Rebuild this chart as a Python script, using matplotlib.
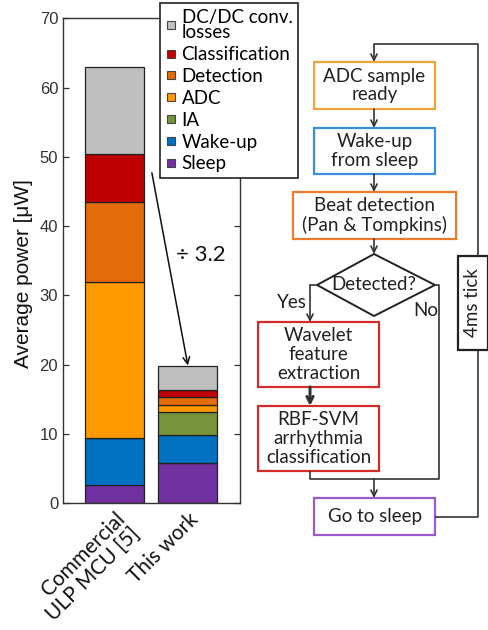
import matplotlib.pyplot as plt
from matplotlib.lines import Line2D
from matplotlib.patches import Rectangle, Polygon

# Average power breakdown [uW]
categories = ['Commercial\nULP MCU [5]', 'This work']
components = ['Sleep', 'Wake-up', 'IA', 'ADC', 'Detection', 'Classification',
              'DC/DC conv.\nlosses']
power_mcu = [2.7, 6.7, 0.0, 22.6, 11.5, 6.9, 12.6]
power_this = [5.8, 4.0, 3.4, 1.0, 1.2, 0.95, 3.45]
colors = ['#7030A0', '#0070C0', '#77933C', '#FF9900', '#E36C09', '#C00000', '#BFBFBF']
ratio_label = '÷ 3.2'

W, H = 489, 630
fig = plt.figure(figsize=(W / 100, H / 100), dpi=100)
fig.patch.set_facecolor('white')

# --- stacked bars -------------------------------------------------------
ax = fig.add_axes([63 / W, (H - 503.3) / H, 177 / W, 485 / H])
xpos = [1, 2]
bottom = [0.0, 0.0]
for name, c, a, b in zip(components, colors, power_mcu, power_this):
    ax.bar(xpos, [a, b], 0.8, bottom=bottom, color=c, edgecolor='#222222',
           linewidth=0.9, label=name, zorder=2)
    bottom = [bottom[0] + a, bottom[1] + b]

ax.set_xlim(0.3, 2.71)
ax.set_ylim(0, 70)
ax.set_yticks(range(0, 71, 10))
ax.tick_params(axis='y', direction='in', length=4, width=0.9, right=True,
               labelsize=12, labelcolor='#333333', colors='#333333',
               labelfontfamily='Liberation Sans')
ax.set_xticks(xpos)
ax.set_xticklabels(categories, rotation=45, ha='right', va='top',
                   rotation_mode='anchor', fontsize=15, family='Lato',
                   color='#111111', multialignment='right', linespacing=1.05)
ax.tick_params(axis='x', length=0, pad=4)
for sp in ax.spines.values():
    sp.set_color('#333333')
    sp.set_linewidth(1.0)
ax.set_ylabel('Average power [\u03bcW]', fontsize=15, family='Liberation Sans',
              color='#111111')
ax.yaxis.set_label_coords(-0.17, 0.473)

# legend, top entry first
order = list(range(len(components)))[::-1]
handles = [Line2D([], [], marker='s', ls='none', markersize=5.5,
                  markerfacecolor=colors[i], markeredgecolor='#444444',
                  markeredgewidth=0.8) for i in order]
leg = ax.legend(handles, [components[i] for i in order], loc='upper left',
                bbox_to_anchor=(160 / W, 1 - 3 / H), bbox_transform=fig.transFigure,
                frameon=True, fancybox=False, framealpha=1, edgecolor='#222222',
                prop={'family': 'Lato', 'size': 13.5}, handlelength=0.6,
                handletextpad=0.25, borderpad=0.3, labelspacing=0.26,
                borderaxespad=0)
leg.get_frame().set_linewidth(1.2)
leg.set_zorder(5)
for t in leg.get_texts():
    t.set_linespacing(0.9)

ax.annotate('', xy=(2.0, sum(power_this) + 0.1), xytext=(1.51, 47.7),
            arrowprops=dict(arrowstyle='->', lw=1.1, color='#111111',
                            shrinkA=0, shrinkB=0, mutation_scale=12),
            annotation_clip=False, zorder=4)
ax.text(2.17, 35.8, ratio_label, fontsize=16, family='Lato', color='#111111',
        ha='center', va='center')

# --- flowchart (pixel coordinates) --------------------------------------
fc = fig.add_axes([0, 0, 1, 1])
fc.set_xlim(0, W)
fc.set_ylim(H, 0)
fc.axis('off')
line_c = '#333333'


def box(x0, y0, x1, y1, text, color, **kw):
    fc.add_patch(Rectangle((x0, y0), x1 - x0, y1 - y0, facecolor='white',
                           edgecolor=color, lw=1.6))
    fc.text((x0 + x1) / 2, (y0 + y1) / 2, text, ha='center', va='center',
            fontsize=13.5, family='Lato', color='#222222', linespacing=1.12, **kw)


def arrow(x, y0, y1, lw=1.2):
    fc.annotate('', xy=(x, y1), xytext=(x, y0),
                arrowprops=dict(arrowstyle='->', lw=lw, color=line_c,
                                shrinkA=0, shrinkB=0, mutation_scale=11))


def path(xs, ys):
    fc.plot(xs, ys, color=line_c, lw=1.2, solid_capstyle='butt')


box(314, 62, 435, 109, 'ADC sample\nready', '#F2A33A')
box(314, 128, 435, 174, 'Wake-up\nfrom sleep', '#3A8EDB')
box(293, 192, 456, 239, 'Beat detection\n(Pan & Tompkins)', '#EE7A2E')
box(258, 322, 379, 387, 'Wavelet\nfeature\nextraction', '#D42A2A')
box(258, 406, 379, 471, 'RBF-SVM\narrhythmia\nclassification', '#D42A2A')
box(314, 498, 435, 535, 'Go to sleep', '#9B5BCF')
box(458, 256, 488, 350, '4ms tick', '#222222', rotation=90)

fc.add_patch(Polygon([(374, 254), (435, 285), (374, 316), (317, 285)],
                     closed=True, facecolor='white', edgecolor='#222222', lw=1.4))
fc.text(374, 285, 'Detected?', ha='center', va='center', fontsize=13.5,
        family='Lato', color='#222222')
fc.text(292, 302, 'Yes', ha='center', va='center', fontsize=13.5,
        family='Lato', color='#222222')
fc.text(426, 310, 'No', ha='center', va='center', fontsize=13.5,
        family='Lato', color='#222222')

arrow(374, 109, 128)
arrow(374, 174, 192)
arrow(374, 239, 254)
path([317, 310], [285, 285])
arrow(310, 285, 322)
arrow(310, 387, 406, lw=2.2)
path([435, 439, 439, 310, 310], [285, 285, 479, 479, 471])
arrow(374, 479, 498)
path([435, 478, 478], [517, 517, 350])
path([478, 478, 374], [256, 44, 44])
arrow(374, 44, 62)

fig.savefig('out.png', dpi=100)
